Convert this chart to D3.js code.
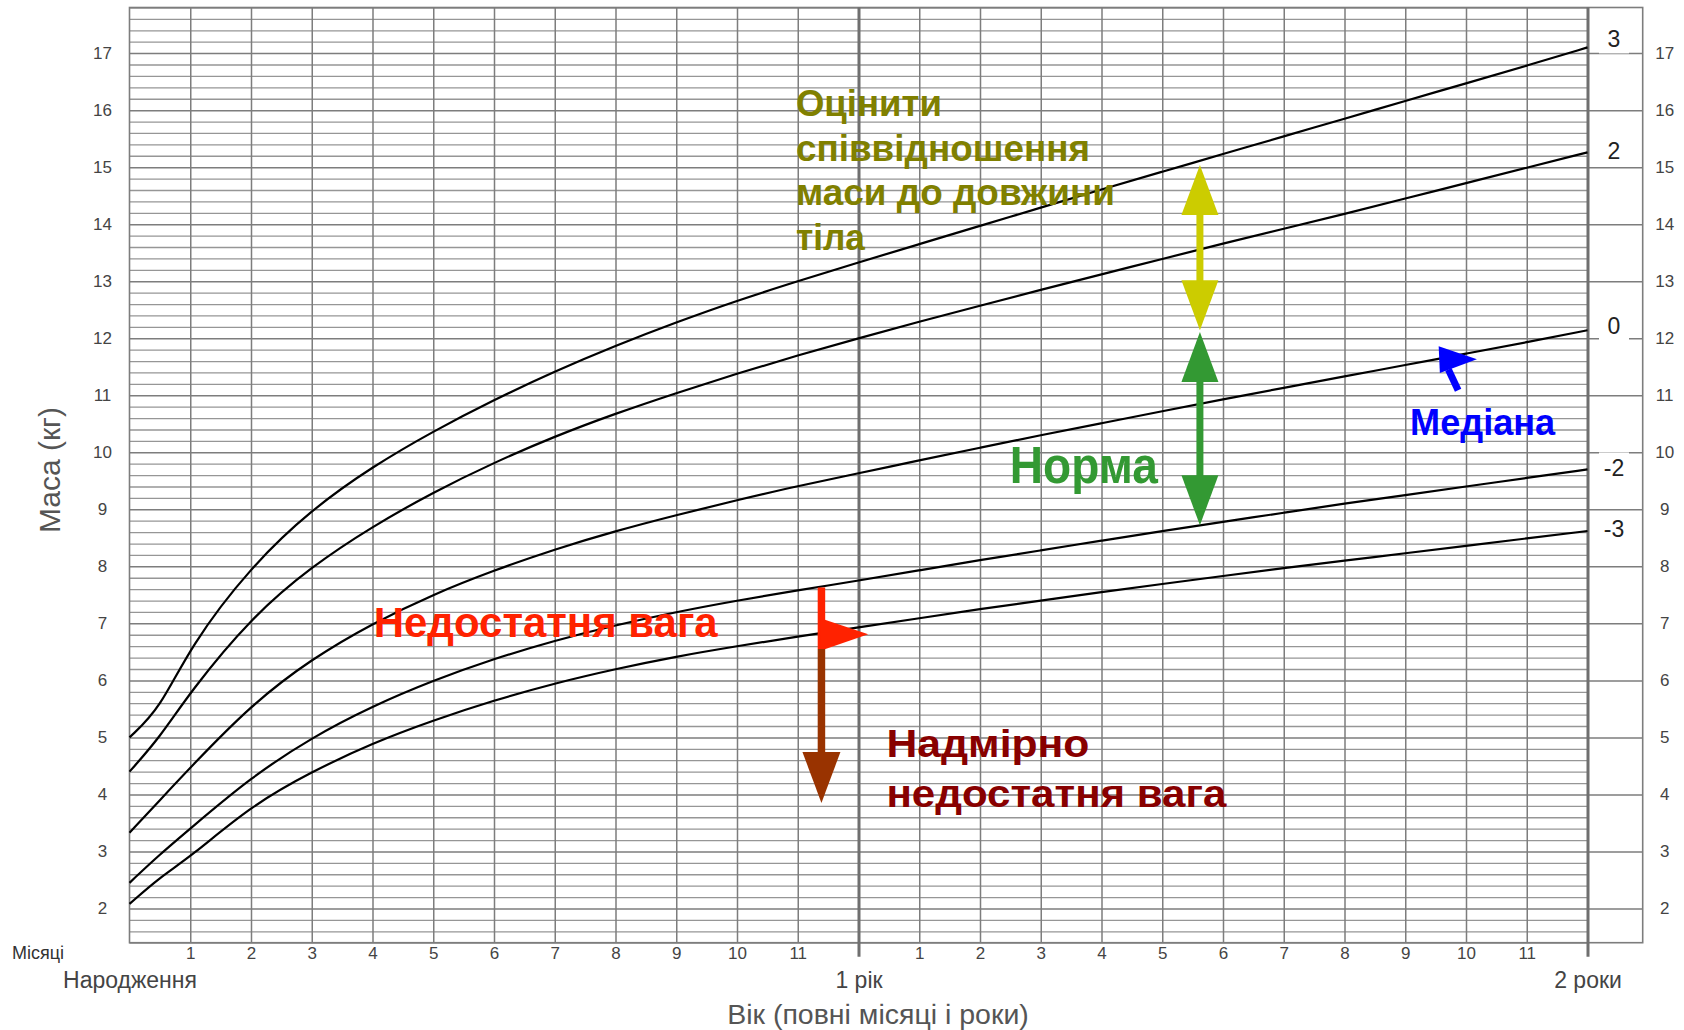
<!DOCTYPE html>
<html>
<head>
<meta charset="utf-8">
<script src="https://cdn.jsdelivr.net/npm/d3@7"></script>
<style>
	html, body { margin: 0; padding: 0; background: #fff; }
	svg { display: block; font-family: "Liberation Sans", Arial, sans-serif; }
</style>
</head>
<body>
<svg id="chart" width="1684" height="1030"></svg>
<script>
// ages in months (0 = birth), weights in kg
var months = [0, 0.5, 1, 2, 3, 4, 5, 6, 7, 8, 9, 10, 11, 12, 13, 14, 15, 16, 17, 18, 19, 20, 21, 22, 23, 24];
var sdNeg3 = [2.08, 2.55, 2.9, 3.8, 4.4, 4.9, 5.3, 5.65, 5.95, 6.2, 6.42, 6.6, 6.77, 6.93, 7.09, 7.25, 7.4, 7.55, 7.69, 7.83, 7.97, 8.1, 8.23, 8.36, 8.49, 8.62];
var sdNeg2 = [2.45, 2.95, 3.4, 4.3, 5.0, 5.55, 6.0, 6.38, 6.7, 6.97, 7.2, 7.4, 7.58, 7.75, 7.93, 8.11, 8.28, 8.45, 8.62, 8.78, 8.94, 9.1, 9.25, 9.4, 9.55, 9.7];
var sdMedian = [3.33, 3.9, 4.47, 5.57, 6.38, 7.0, 7.51, 7.93, 8.3, 8.62, 8.9, 9.16, 9.41, 9.63, 9.86, 10.08, 10.3, 10.51, 10.72, 10.93, 11.13, 11.33, 11.53, 11.73, 11.93, 12.14];
var sdPos2 = [4.4, 5.0, 5.8, 7.1, 8.0, 8.7, 9.3, 9.82, 10.28, 10.68, 11.04, 11.38, 11.7, 12.0, 12.29, 12.57, 12.85, 13.12, 13.39, 13.66, 13.92, 14.18, 14.45, 14.72, 14.99, 15.26];
var sdPos3 = [5.0, 5.5, 6.6, 8.0, 9.0, 9.75, 10.37, 10.92, 11.42, 11.87, 12.28, 12.66, 13.0, 13.33, 13.65, 13.97, 14.29, 14.61, 14.92, 15.23, 15.54, 15.85, 16.16, 16.47, 16.78, 17.1];

var zLabels = ['3', '2', '0', '-2', '-3'];
var kgTicks = [2, 3, 4, 5, 6, 7, 8, 9, 10, 11, 12, 13, 14, 15, 16, 17];
var monthTicks = [1, 2, 3, 4, 5, 6, 7, 8, 9, 10, 11, 13, 14, 15, 16, 17, 18, 19, 20, 21, 22, 23];
var yearTicks = [0, 12, 24];
var yearLabels = ['Народження', '1 рік', '2 роки'];

(function() {
	'use strict';

	var svg = d3.select('#chart');

	var box = {left: 129.5, right: 1587.5, top: 7.5, bottom: 942.7, frame: 1642.7};

	var x = d3.scaleLinear().domain([0, 24]).range([box.left, box.right]);
	var y = d3.scaleLinear().domain([1.4, 17.8]).range([box.bottom, box.top]);

	var series = [sdPos3, sdPos2, sdMedian, sdNeg2, sdNeg3];

	// Minor horizontal grid (every 0.2 kg)
	var minorKg = d3.range(7, 90).map(function(i) { return i / 5; })
		.filter(function(v) { return Math.abs(v - Math.round(v)) > 0.01; });

	svg.append('g')
		.attr('transform', 'translate(' + box.left + ',0)')
		.call(d3.axisLeft(y).tickValues(minorKg).tickSize(-(box.right - box.left)).tickFormat(''))
		.call(function(g) { g.select('.domain').remove(); })
		.selectAll('line')
			.attr('stroke', '#969696')
			.attr('stroke-width', 1.3);

	// Integer kg lines run through the label column too
	svg.append('g')
		.attr('transform', 'translate(' + box.left + ',0)')
		.call(d3.axisLeft(y).tickValues(kgTicks).tickSize(-(box.frame - box.left)).tickFormat(''))
		.call(function(g) { g.select('.domain').remove(); })
		.selectAll('line')
			.attr('stroke', '#7d7d7d')
			.attr('stroke-width', 1.5);

	// Month lines
	svg.append('g')
		.attr('transform', 'translate(0,' + box.bottom + ')')
		.call(d3.axisBottom(x).tickValues(monthTicks).tickSize(-(box.bottom - box.top)).tickFormat(''))
		.call(function(g) { g.select('.domain').remove(); })
		.selectAll('line')
			.attr('stroke', '#7d7d7d')
			.attr('stroke-width', 1.5);

	// Frame
	svg.append('rect')
		.attr('x', box.left)
		.attr('y', box.top)
		.attr('width', box.frame - box.left)
		.attr('height', box.bottom - box.top)
		.attr('fill', 'none')
		.attr('stroke', '#7d7d7d')
		.attr('stroke-width', 1.6);

	// Year lines (thicker, poking below the frame)
	svg.append('g')
		.attr('transform', 'translate(0,' + box.bottom + ')')
		.call(d3.axisBottom(x).tickValues([12, 24]).tickSize(-(box.bottom - box.top)).tickFormat(''))
		.call(function(g) { g.select('.domain').remove(); })
		.selectAll('line')
			.attr('y1', 14)
			.attr('stroke', '#6f6f6f')
			.attr('stroke-width', 3);

	// Z-score curves
	var line = d3.line()
		.curve(d3.curveBasis)
		.x(function(d, i) { return x(months[i]); })
		.y(function(d) { return y(d); });

	svg.append('g').selectAll('path')
		.data(series)
		.enter().append('path')
			.attr('d', line)
			.attr('fill', 'none')
			.attr('stroke', '#000')
			.attr('stroke-width', 2.2);

	// Z-score labels at the right end
	var zShift = [-9, -2, -5, -2, -2];
	var zLab = svg.append('g').selectAll('g')
		.data(series)
		.enter().append('g')
			.attr('transform', function(d, i) {
				return 'translate(1614,' + (y(d[d.length - 1]) + zShift[i]) + ')';
			});

	zLab.append('rect')
		.attr('x', -15).attr('y', -15)
		.attr('width', 30).attr('height', 30)
		.attr('fill', '#fff');

	zLab.append('text')
		.attr('text-anchor', 'middle')
		.attr('dy', '0.36em')
		.attr('font-size', 23)
		.attr('fill', '#222')
		.text(function(d, i) { return zLabels[i]; });

	// Weight tick labels, both sides
	var left = svg.append('g')
		.attr('transform', 'translate(' + box.left + ',0)')
		.call(d3.axisLeft(y).tickValues(kgTicks).tickSize(0));
	left.select('.domain').remove();
	left.selectAll('text')
		.attr('x', -27)
		.attr('text-anchor', 'middle')
		.attr('font-family', '"Liberation Sans", Arial, sans-serif')
		.attr('font-size', 17)
		.attr('fill', '#444');

	var right = svg.append('g')
		.attr('transform', 'translate(' + box.frame + ',0)')
		.call(d3.axisRight(y).tickValues(kgTicks).tickSize(0));
	right.select('.domain').remove();
	right.selectAll('text')
		.attr('x', 22)
		.attr('text-anchor', 'middle')
		.attr('font-family', '"Liberation Sans", Arial, sans-serif')
		.attr('font-size', 17)
		.attr('fill', '#444');

	// Month labels
	var bottom = svg.append('g')
		.attr('transform', 'translate(0,' + box.bottom + ')')
		.call(d3.axisBottom(x).tickValues(monthTicks).tickSize(0).tickFormat(function(d) { return d % 12; }));
	bottom.select('.domain').remove();
	bottom.selectAll('text')
		.attr('y', 16.5)
		.attr('dy', 0)
		.attr('font-family', '"Liberation Sans", Arial, sans-serif')
		.attr('font-size', 17)
		.attr('fill', '#444');

	var years = svg.append('g')
		.attr('transform', 'translate(0,' + box.bottom + ')')
		.call(d3.axisBottom(x).tickValues(yearTicks).tickSize(0).tickFormat(function(d, i) { return yearLabels[i]; }));
	years.select('.domain').remove();
	years.selectAll('text')
		.attr('y', 45)
		.attr('dy', 0)
		.attr('font-family', '"Liberation Sans", Arial, sans-serif')
		.attr('font-size', 23)
		.attr('fill', '#444');

	svg.append('text')
		.attr('x', 12)
		.attr('y', 959)
		.attr('font-size', 18)
		.attr('fill', '#333')
		.text('Місяці');

	// Axis titles
	svg.append('text')
		.attr('x', 878)
		.attr('y', 1024)
		.attr('text-anchor', 'middle')
		.attr('font-size', 28.5)
		.attr('fill', '#555')
		.text('Вік (повні місяці і роки)');

	svg.append('text')
		.attr('transform', 'translate(49,470) rotate(-90)')
		.attr('text-anchor', 'middle')
		.attr('dy', '0.36em')
		.attr('font-size', 30)
		.attr('fill', '#555')
		.text('Маса (кг)');

	// ---------- Annotations ----------
	var notes = svg.append('g').attr('font-weight', 'bold');

	function label(m, v, str, size, color, len, dy) {
		var t = notes.append('text')
			.attr('x', x(m))
			.attr('y', y(v) + (dy || 0))
			.attr('font-size', size)
			.attr('fill', color)
			.text(str);
		if(len) {
			t.attr('textLength', len).attr('lengthAdjust', 'spacingAndGlyphs');
		}
		return t;
	}

	var assess = ['Оцінити', 'співвідношення', 'маси до довжини', 'тіла'];
	var assessLen = [146, 294, 319, 69];
	assess.forEach(function(s, i) {
		label(10.97, 15.89, s, 36, '#808000', assessLen[i], i * 44.5);
	});

	label(14.49, 9.46, 'Норма', 52, '#339933', 148);
	label(21.08, 10.30, 'Медіана', 37, '#0000ff', 145);
	label(4.02, 6.76, 'Недостатня вага', 42, '#ff2200', 344);
	label(12.46, 4.66, 'Надмірно', 38, '#880000', 203);
	label(12.46, 4.66, 'недостатня вага', 38, '#880000', 340, 50);

	function tri(a, b, c, color) {
		notes.append('polygon')
			.attr('points', [a, b, c].map(function(p) { return p.join(','); }).join(' '))
			.attr('fill', color);
	}

	// vertical double-headed arrow between two weights
	function doubleArrow(m, vTop, vBot, color) {
		var cx = x(m), t = y(vTop), b = y(vBot), head = 50, half = 18.5;
		notes.append('line')
			.attr('x1', cx).attr('x2', cx)
			.attr('y1', t + head - 2).attr('y2', b - head + 2)
			.attr('stroke', color)
			.attr('stroke-width', 7);
		tri([cx, t], [cx - half, t + head], [cx + half, t + head], color);
		tri([cx, b], [cx - half, b - head], [cx + half, b - head], color);
	}

	doubleArrow(17.62, 15.04, 12.14, '#cccc00');
	doubleArrow(17.62, 12.11, 8.72, '#339933');

	// Flag on the -2 line with arrow pointing down
	var fx = x(11.39);
	notes.append('line')
		.attr('x1', fx).attr('x2', fx)
		.attr('y1', y(7.63)).attr('y2', y(6.55))
		.attr('stroke', '#ff2200').attr('stroke-width', 7.5);
	tri([fx - 1, y(7.09)], [x(12.16), y(6.81)], [fx - 1, y(6.52)], '#ff2200');
	notes.append('line')
		.attr('x1', fx).attr('x2', fx)
		.attr('y1', y(6.55)).attr('y2', y(4.6))
		.attr('stroke', '#993300').attr('stroke-width', 7.5);
	tri([fx, y(3.85)], [fx - 19, y(3.85) - 51], [fx + 19, y(3.85) - 51], '#993300');

	// Median pointer
	notes.append('line')
		.attr('x1', x(21.87)).attr('y1', y(11.09))
		.attr('x2', x(21.71)).attr('y2', y(11.45))
		.attr('stroke', '#0000ff').attr('stroke-width', 7);
	tri([x(21.55), y(11.86)], [x(22.18), y(11.63)], [x(21.57), y(11.39)], '#0000ff');

})();
</script>
</body>
</html>
